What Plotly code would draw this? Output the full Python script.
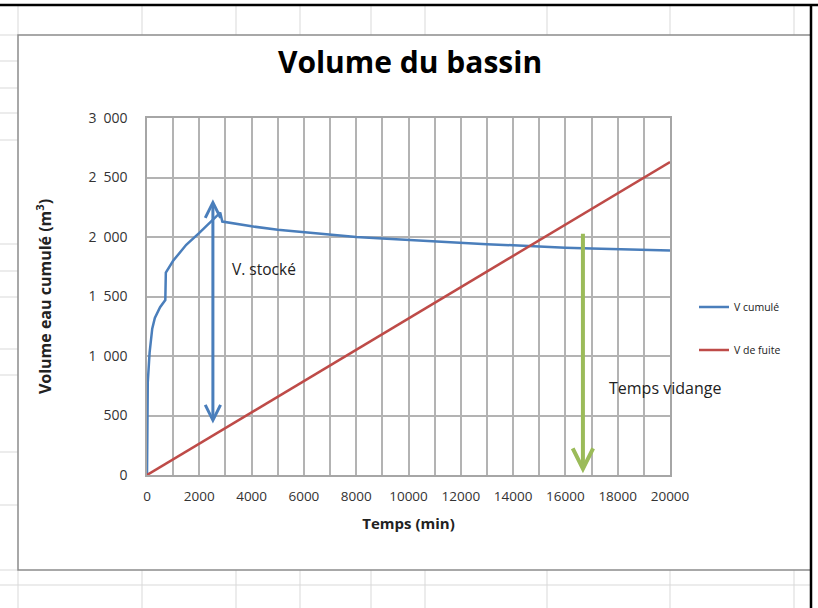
import plotly.graph_objects as go

# V cumulé (m3) against time (min)
temps_cumule = [0, 10, 30, 100, 200, 300, 350, 500, 700, 720, 1000, 1500, 2000, 2500,
                2800, 2880, 3500, 4000, 5000, 6000, 7000, 8000, 9000, 10000, 11000,
                12000, 13000, 14000, 15000, 16000, 17000, 18000, 19000, 20000]
v_cumule = [0, 500, 780, 1030, 1230, 1320, 1345, 1410, 1470, 1700, 1800, 1935, 2035, 2140,
            2205, 2130, 2105, 2090, 2060, 2040, 2015, 2000, 1988, 1975, 1962,
            1950, 1940, 1930, 1918, 1910, 1903, 1896, 1891, 1887]

# V de fuite: straight line
temps_fuite = [0, 20000]
v_fuite = [0, 2630]

# arrows drawn on the chart (time, volume)
stocke_x = 2520
stocke_bas, stocke_haut = 420, 2317
vidange_x = 16670
vidange_haut, vidange_bas = 2040, 15

W, H = 818, 608
L, R, T, B = 147, 670, 118, 475
FONT = "Open Sans"
BLUE, RED, GREEN = "#4A7EBB", "#BE4B48", "#9BBB59"


def px_x(p):
    return (p - L) / (R - L)


def px_y(p):
    return (B - p) / (B - T)


fig = go.Figure()
fig.add_trace(go.Scatter(x=temps_cumule, y=v_cumule, mode="lines", name="V cumulé",
                         line=dict(color=BLUE, width=2.5), legend="legend"))
fig.add_trace(go.Scatter(x=temps_fuite, y=v_fuite, mode="lines", name="V de fuite",
                         line=dict(color=RED, width=2.5), legend="legend2"))

# spreadsheet background and chart frame
shapes = []
cell = dict(color="#d9d9d9", width=1)
for cx in [142, 236, 300, 371, 425, 547, 670, 794, 18]:
    shapes.append(dict(type="line", xref="paper", yref="paper", x0=px_x(cx), x1=px_x(cx),
                       y0=px_y(5), y1=px_y(35), line=cell, layer="below"))
    shapes.append(dict(type="line", xref="paper", yref="paper", x0=px_x(cx), x1=px_x(cx),
                       y0=px_y(570), y1=px_y(608), line=cell, layer="below"))
for cy in [35, 61, 88, 113, 140, 244, 271, 297, 349, 375, 452, 505, 570]:
    shapes.append(dict(type="line", xref="paper", yref="paper", x0=px_x(0), x1=px_x(18),
                       y0=px_y(cy), y1=px_y(cy), line=cell, layer="below"))
shapes.append(dict(type="line", xref="paper", yref="paper", x0=px_x(0), x1=px_x(811),
                   y0=px_y(585), y1=px_y(585), line=cell, layer="below"))
shapes.append(dict(type="rect", xref="paper", yref="paper", x0=px_x(18), x1=px_x(811),
                   y0=px_y(570), y1=px_y(35), line=dict(color="#8c8c8c", width=1.5),
                   fillcolor="white", layer="below"))
shapes.append(dict(type="line", xref="paper", yref="paper", x0=px_x(0), x1=px_x(818),
                   y0=px_y(5), y1=px_y(5), line=dict(color="black", width=2.5)))
shapes.append(dict(type="line", xref="paper", yref="paper", x0=px_x(811), x1=px_x(811),
                   y0=px_y(5), y1=px_y(608), line=dict(color="black", width=2.5)))

annotations = [
    dict(x=stocke_x, y=stocke_haut, ax=stocke_x, ay=stocke_bas, xref="x", yref="y",
         axref="x", ayref="y", text="", showarrow=True, arrowside="end+start",
         arrowhead=5, startarrowhead=5, arrowsize=1, startarrowsize=1,
         arrowwidth=3, arrowcolor=BLUE),
    dict(x=vidange_x, y=vidange_bas, ax=vidange_x, ay=vidange_haut, xref="x", yref="y",
         axref="x", ayref="y", text="", showarrow=True, arrowhead=5, arrowsize=1,
         arrowwidth=4, arrowcolor=GREEN),
    dict(x=3170, y=1731, xref="x", yref="y", text="V. stocké", showarrow=False,
         xanchor="left", font=dict(family=FONT, size=15.5, color="#222")),
    dict(x=17590, y=731, xref="x", yref="y", text="Temps vidange", showarrow=False,
         xanchor="left", font=dict(family=FONT, size=16, color="#222")),
]

fig.update_layout(
    width=W, height=H,
    margin=dict(l=L, r=W - R, t=T, b=H - B, autoexpand=False),
    paper_bgcolor="white", plot_bgcolor="white",
    separators=",\u2002",
    showlegend=True,
    font=dict(family=FONT, size=13, color="#333"),
    title=dict(text="<b>Volume du bassin</b>", x=410 / W, xanchor="center",
               y=1 - 62 / H, yanchor="middle", font=dict(family=FONT, size=30, color="black")),
    shapes=shapes,
    annotations=annotations,
    legend=dict(x=px_x(694), y=px_y(307), xanchor="left", yanchor="middle",
                font=dict(family=FONT, size=10.5, color="#222"), bgcolor="rgba(0,0,0,0)"),
    legend2=dict(x=px_x(694), y=px_y(350), xanchor="left", yanchor="middle",
                 font=dict(family=FONT, size=10.5, color="#222"), bgcolor="rgba(0,0,0,0)"),
)
fig.update_xaxes(range=[0, 20000], dtick=2000, tickformat="d",
                 showgrid=True, gridcolor="#b3b3b3", gridwidth=1.5,
                 minor=dict(dtick=1000, showgrid=True, gridcolor="#b3b3b3", gridwidth=1.5),
                 showline=True, linecolor="#a6a6a6", linewidth=1.5, mirror=True,
                 zeroline=False, ticklabelstandoff=8,
                 tickfont=dict(family=FONT, size=13.5, color="#333"),
                 title=dict(text="<b>Temps (min)</b>", standoff=15,
                            font=dict(family=FONT, size=15, color="#222")))
fig.update_yaxes(range=[0, 3000], dtick=500, tickformat=",d",
                 showgrid=True, gridcolor="#b3b3b3", gridwidth=1.5,
                 showline=True, linecolor="#a6a6a6", linewidth=1.5, mirror=True,
                 zeroline=False, ticklabelstandoff=15,
                 tickfont=dict(family=FONT, size=14, color="#333"),
                 title=dict(text="<b>Volume eau cumulé (m<sup>3</sup>)</b>", standoff=33,
                            font=dict(family=FONT, size=16, color="#222")))

fig.write_html("out.html", config={"displayModeBar": False},
               post_script="document.body.style.margin = '0';")
